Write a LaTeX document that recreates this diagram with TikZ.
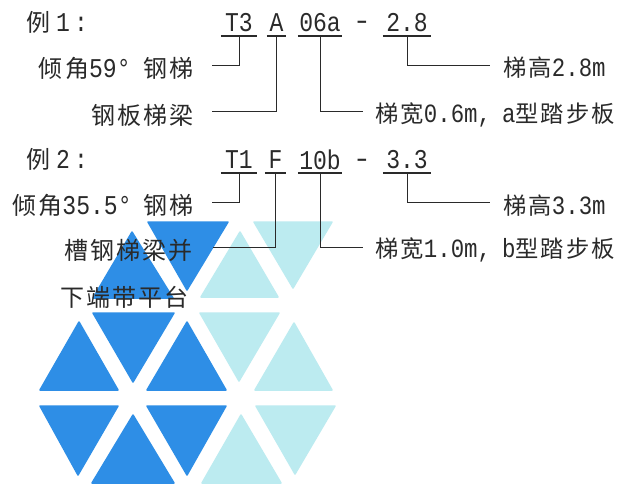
\documentclass[tikz,border=0pt]{standalone}
\usepackage{fontspec}
\setmainfont[LetterSpace=9]{Noto Sans CJK SC}
\newfontfamily\lat[FakeStretch=0.85,Scale=1.13]{Liberation Mono}
\newcommand{\Lt}[1]{{\lat #1}}
\definecolor{tdark}{HTML}{2E8EE6}
\definecolor{tlight}{HTML}{BCEBF0}
\definecolor{inkc}{HTML}{2A2A2A}
\tikzset{
  dk/.style={fill=tdark,draw=tdark,line width=1.5pt,line join=round},
  lt/.style={fill=tlight,draw=tlight,line width=1.5pt,line join=round},
  txt/.style={font=\fontsize{24}{26}\selectfont,text=inkc,inner sep=0pt},
  lbl/.style={txt,anchor=east},
  rlb/.style={txt,font=\fontsize{23.3}{26}\selectfont,anchor=west},
  code/.style={font=\fontsize{24}{26}\selectfont\lat,text=inkc,inner sep=0pt,anchor=south,minimum height=26pt},
  dashnode/.style={code,xscale=1.35},
  ldr/.style={draw=inkc,line width=1pt},
  ul/.style={draw=inkc,line width=1.2pt}
}
\begin{document}
\begin{tikzpicture}[x=1pt,y=-1pt]
\useasboundingbox (0,0) rectangle (622,483);
\fill[white] (0,0) rectangle (622,483);
% row 1
\filldraw[lt] (254,222) -- (332,222) -- (293,288) -- cycle;
\filldraw[lt] (240,232) -- (201,297) -- (278,297) -- cycle;
\filldraw[dk] (148,222) -- (228,222) -- (187,290) -- cycle;
\filldraw[dk] (132,232) -- (93,298) -- (173,298) -- cycle;
% row 2
\filldraw[dk] (79,322) -- (40,390) -- (118,390) -- cycle;
\filldraw[dk] (93,313) -- (174,313) -- (133,382) -- cycle;
\filldraw[dk] (187,322) -- (147,390) -- (226,390) -- cycle;
\filldraw[lt] (200,313) -- (279,313) -- (239,381) -- cycle;
\filldraw[lt] (294,323) -- (255,390) -- (332,390) -- cycle;
% row 3
\filldraw[dk] (40,406) -- (118,406) -- (78,475) -- cycle;
\filldraw[dk] (133,415) -- (92,483) -- (174,483) -- cycle;
\filldraw[dk] (147,406) -- (226,406) -- (187,475) -- cycle;
\filldraw[lt] (241,415) -- (202,483) -- (281,483) -- cycle;
\filldraw[lt] (256,406) -- (335,406) -- (295,474) -- cycle;
% left headings
\node[lbl,anchor=west] (ex1) at (26,22) {例\hspace{6pt}\Lt{1}\hspace{4pt}\Lt{:}};
\node[lbl,anchor=west] (ex2) at (26,159) {例\hspace{6pt}\Lt{2}\hspace{4pt}\Lt{:}};
% codes, example 1
\node[code,minimum width=36pt] (t3) at (239,36) {T3};
\node[code,minimum width=19pt] (a) at (276.5,36) {A};
\node[code,minimum width=44pt] (o6a) at (320,36) {06a};
\node[dashnode] (d1) at (362,39) {-};
\node[code,minimum width=48pt] (h1) at (407,36) {2.8};
% codes, example 2
\node[code,minimum width=36pt] (t1) at (239,173) {T1};
\node[code,minimum width=21pt] (f) at (275.5,173) {F};
\node[code,minimum width=44pt] (tenb) at (320,173) {10b};
\node[dashnode] (d2) at (362,177) {-};
\node[code,minimum width=48pt] (h2) at (407,173) {3.3};
% left labels
\node[lbl] (l59) at (194,68) {倾角\Lt{59°}\hspace{13pt}钢梯};
\node[lbl] (lplate) at (194,115) {钢板梯梁};
\node[lbl] (l35) at (194,205) {倾角\Lt{35.5°}\hspace{12pt}钢梯};
\node[lbl] (lchan) at (193,250) {槽钢梯梁并};
\node[lbl] (lbot) at (189,297) {下端带平台};
% right labels
\node[rlb] (r28) at (503,68) {梯高\Lt{2.8m}};
\node[rlb] (r06) at (375,115) {梯宽\Lt{0.6m,}\hspace{11pt}\Lt{a}型踏步板};
\node[rlb] (r33) at (503,206) {梯高\Lt{3.3m}};
\node[rlb] (r10) at (375,250) {梯宽\Lt{1.0m,}\hspace{11pt}\Lt{b}型踏步板};
% underlines
\foreach \n in {t3,a,o6a,h1,t1,f,tenb,h2}{\draw[ul] (\n.south west) -- (\n.south east);}
% leaders
\draw[ldr] (t3.south) |- ([xshift=18pt,yshift=3pt]l59.east);
\draw[ldr] (a.south) |- ([xshift=18pt,yshift=4pt]lplate.east);
\draw[ldr] (o6a.south) |- ([xshift=-12pt,yshift=4pt]r06.west);
\draw[ldr] (h1.south) |- ([xshift=-13pt,yshift=3pt]r28.west);
\draw[ldr] (t1.south) |- ([xshift=18pt,yshift=3pt]l35.east);
\draw[ldr] (f.south) |- ([xshift=20pt,yshift=3pt]lchan.east);
\draw[ldr] (tenb.south) |- ([xshift=-12pt,yshift=3pt]r10.west);
\draw[ldr] (h2.south) |- ([xshift=-13pt,yshift=4pt]r33.west);
\end{tikzpicture}
\end{document}
